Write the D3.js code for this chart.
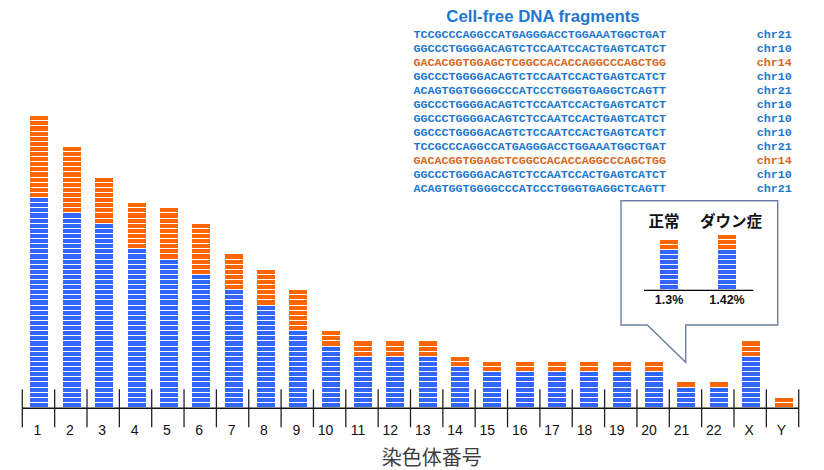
<!DOCTYPE html>
<html><head><meta charset="utf-8">
<script src="https://cdn.jsdelivr.net/npm/d3@7"></script>
<style>body{margin:0;background:#fff}svg{display:block}</style>
</head><body><svg id="c" width="824" height="470"></svg>
<script>
// ---- data ----
const categories = ["1","2","3","4","5","6","7","8","9","10","11","12","13","14","15","16","17","18","19","20","21","22","X","Y"];
const blueCounts   = [41,38,36,31,29,26,23,20,15,12,10,10,10,8,7,7,7,7,7,7,4,4,10,0];
const orangeCounts = [16,13,9,9,10,10,7,7,8,3,3,3,3,2,2,2,2,2,2,2,1,1,3,2];
const seqs = [
  "TCCGCCCAGGCCATGAGGGACCTGGAAATGGCTGAT",
  "GGCCCTGGGGACAGTCTCCAATCCACTGAGTCATCT",
  "GACACGGTGGAGCTCGGCCACACCAGGCCCAGCTGG",
  "GGCCCTGGGGACAGTCTCCAATCCACTGAGTCATCT",
  "ACAGTGGTGGGGCCCATCCCTGGGTGAGGCTCAGTT",
  "GGCCCTGGGGACAGTCTCCAATCCACTGAGTCATCT",
  "GGCCCTGGGGACAGTCTCCAATCCACTGAGTCATCT",
  "GGCCCTGGGGACAGTCTCCAATCCACTGAGTCATCT",
  "TCCGCCCAGGCCATGAGGGACCTGGAAATGGCTGAT",
  "GACACGGTGGAGCTCGGCCACACCAGGCCCAGCTGG",
  "GGCCCTGGGGACAGTCTCCAATCCACTGAGTCATCT",
  "ACAGTGGTGGGGCCCATCCCTGGGTGAGGCTCAGTT"];
const seqChr = ["chr21","chr10","chr14","chr10","chr21","chr10","chr10","chr10","chr21","chr14","chr10","chr21"];
const highlightChr = "chr14";
const miniLabels = ["正常","ダウン症"];
const miniBlue = [8,8];
const miniOrange = [2,3];
const miniPct = ["1.3%","1.42%"];
const titleText = "Cell-free DNA fragments";
const axisTitle = "染色体番号";

// ---- styles ----
const BLUE = "#3366FF", ORANGE = "#FF6600";
const TXT_BLUE = "#1E78CF", TXT_ORANGE = "#D8681E";

const svg = d3.select("#c");

// ---- main chart scales ----
const x = d3.scaleBand().domain(categories).range([22.3, 798.7]).padding(0);
const pitch = 5.12, base = 408;
const y = d3.scaleLinear().domain([0, 60]).range([base, base - 60 * pitch]);
const barW = 18;

const stripes = [];
categories.forEach((c, k) => {
  const b = blueCounts[k], o = orangeCounts[k];
  for (let i = 0; i < b + o; i++) stripes.push({c, i, col: i < b ? BLUE : ORANGE});
});
svg.append("g").attr("shape-rendering", "crispEdges").selectAll("rect").data(stripes).join("rect")
  .attr("x", d => Math.round(x(d.c) + x.bandwidth() / 2 - barW / 2 + 1))
  .attr("y", d => Math.round(y(d.i + 1)))
  .attr("width", barW)
  .attr("height", d => Math.round(y(d.i)) - Math.round(y(d.i + 1)) - 1)
  .attr("fill", d => d.col);

// axis line and ticks
const axisG = svg.append("g");
axisG.append("line").attr("x1", x.range()[0]).attr("x2", x.range()[1])
  .attr("y1", base + 0.3).attr("y2", base + 0.3).attr("stroke", "#111").attr("stroke-width", 1.5);
const bounds = categories.map(c => x(c)).concat([x.range()[1]]);
axisG.selectAll("line.t").data(bounds).join("line").attr("class", "t")
  .attr("x1", d => d).attr("x2", d => d).attr("y1", 389.3).attr("y2", 427.3)
  .attr("stroke", "#222").attr("stroke-width", 1.3);
axisG.selectAll("text").data(categories).join("text")
  .attr("x", d => x(d) + x.bandwidth() / 2 + (d.length > 1 ? -4 : -1))
  .attr("y", 434.5)
  .attr("text-anchor", "middle")
  .attr("font-family", "'Liberation Sans', Arial, sans-serif")
  .attr("font-size", 14).attr("fill", "#111")
  .text(d => d);

svg.append("text").attr("x", 431.7).attr("y", 465).attr("text-anchor", "middle")
  .attr("font-family", "'Noto Sans CJK JP', sans-serif").attr("font-size", 20)
  .attr("fill", "#404040").text(axisTitle);

// ---- fragments panel ----
svg.append("text").attr("x", 543).attr("y", 21.7).attr("text-anchor", "middle")
  .attr("font-family", "'Liberation Sans', Arial, sans-serif").attr("font-weight", "bold")
  .attr("font-size", 16.8).attr("fill", TXT_BLUE).text(titleText);
const rowY = d3.scaleLinear().domain([0, 11]).range([38.2, 191.7]);
const seqG = svg.append("g").attr("font-family", "'Liberation Mono', 'Courier New', monospace")
  .attr("font-size", 11.7).attr("font-weight", "bold");
seqG.selectAll("text.s").data(seqs).join("text").attr("class", "s")
  .attr("x", 413.5).attr("y", (d, i) => rowY(i))
  .attr("fill", (d, i) => seqChr[i] === highlightChr ? TXT_ORANGE : TXT_BLUE).text(d => d);
seqG.selectAll("text.r").data(seqChr).join("text").attr("class", "r")
  .attr("x", 756.8).attr("y", (d, i) => rowY(i))
  .attr("fill", d => d === highlightChr ? TXT_ORANGE : TXT_BLUE).text(d => d);

// ---- callout ----
svg.append("path")
  .attr("d", "M621,200.7H777.7V325H685.7V362.3L647.3,325H621Z")
  .attr("fill", "#fff").attr("stroke", "#6A7FA3").attr("stroke-width", 1.4);
const xm = d3.scaleBand().domain(miniLabels).range([640, 756]);
const ym = d3.scaleLinear().domain([0, 10]).range([290, 240]);
const mini = [];
miniLabels.forEach((m, k) => {
  for (let i = 0; i < miniBlue[k] + miniOrange[k]; i++) mini.push({m, i, col: i < miniBlue[k] ? BLUE : ORANGE});
});
svg.append("g").attr("shape-rendering", "crispEdges").selectAll("rect").data(mini).join("rect")
  .attr("x", d => Math.round(xm(d.m) + xm.bandwidth() / 2 - 9))
  .attr("y", d => Math.round(ym(d.i + 1)))
  .attr("width", 18)
  .attr("height", d => Math.round(ym(d.i)) - Math.round(ym(d.i + 1)) - 1)
  .attr("fill", d => d.col);
svg.append("line").attr("x1", 644).attr("x2", 753.3).attr("y1", 290.3).attr("y2", 290.3)
  .attr("stroke", "#000").attr("stroke-width", 1.2);
svg.append("g").selectAll("text").data(miniLabels).join("text")
  .attr("x", (d, i) => xm(d) + xm.bandwidth() / 2 + (i === 0 ? -5 : 4))
  .attr("y", 226.5).attr("text-anchor", "middle")
  .attr("font-family", "'Noto Sans CJK JP', sans-serif").attr("font-weight", "bold")
  .attr("font-size", 15.5).attr("fill", "#111").text(d => d);
svg.append("g").selectAll("text").data(miniPct).join("text")
  .attr("x", (d, i) => xm(miniLabels[i]) + xm.bandwidth() / 2)
  .attr("y", 304).attr("text-anchor", "middle")
  .attr("font-family", "'Liberation Sans', Arial, sans-serif").attr("font-weight", "bold")
  .attr("font-size", 12.5).attr("fill", "#111").text(d => d);
</script>
</body></html>
